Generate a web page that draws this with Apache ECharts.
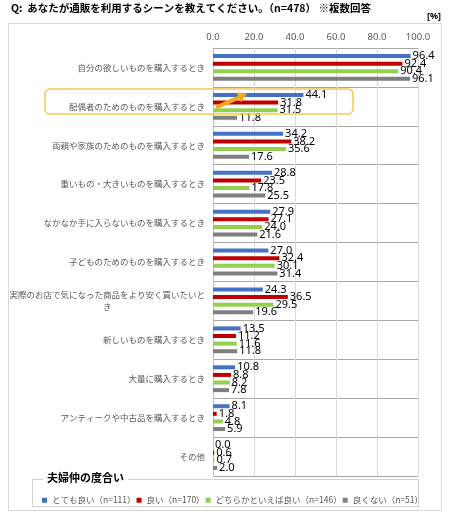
<!DOCTYPE html>
<html lang="ja">
<head>
<meta charset="UTF-8">
<title>通販利用シーン</title>
<script src="https://cdn.jsdelivr.net/npm/echarts@6/dist/echarts.min.js"></script>
<style>
  html, body { margin: 0; padding: 0; background: #fff; }
  #main { width: 452px; height: 516px; }
</style>
</head>
<body>
<div id="main"></div>
<script>
// 設問の選択肢（上から順）
var scenes = [
    '自分の欲しいものを購入するとき',
    '配偶者のためのものを購入するとき',
    '両親や家族のためのものを購入するとき',
    '重いもの・大きいものを購入するとき',
    'なかなか手に入らないものを購入するとき',
    '子どものためのものを購入するとき',
    '実際のお店で気になった商品をより安く買いたいとき',
    '新しいものを購入するとき',
    '大量に購入するとき',
    'アンティークや中古品を購入するとき',
    'その他'
];
var groupNames = ['とても良い（n=111）', '良い（n=170）', 'どちらかといえば良い（n=146）', '良くない（n=51）'];
var veryGood = [96.4, 44.1, 34.2, 28.8, 27.9, 27.0, 24.3, 13.5, 10.8, 8.1, 0.0];
var good     = [92.4, 31.8, 38.2, 23.5, 27.1, 32.4, 36.5, 11.2, 8.8, 1.8, 0.6];
var ratherGood = [90.4, 31.5, 35.6, 17.8, 24.0, 30.1, 29.5, 11.6, 8.2, 4.8, 0.7];
var notGood  = [96.1, 11.8, 17.6, 25.5, 21.6, 31.4, 19.6, 11.8, 7.8, 5.9, 2.0];
var xTicks = [0, 20, 40, 60, 80, 100];

var colors = ['#4472C4', '#C00000', '#92D050', '#7F7F7F'];
var jpFont = '"Noto Sans CJK JP", sans-serif';

var chart = echarts.init(document.getElementById('main'));

var makeSeries = function (name, data, color) {
    return {
        name: name,
        type: 'bar',
        data: data,
        barWidth: 4,
        barGap: '90%',
        itemStyle: { color: color },
        label: {
            show: true,
            position: 'right',
            distance: 2,
            color: '#000',
            fontSize: 11,
            fontFamily: '"Noto Sans", sans-serif',
            formatter: function (p) { return p.value.toFixed(1); }
        }
    };
};

var option = {
    animation: false,
    color: colors,
    title: {
        text: 'Q:  あなたが通販を利用するシーンを教えてください。（n=478） ※複数回答',
        left: 6,
        top: -2,
        textStyle: { fontSize: 10.5, fontWeight: 'bold', color: '#000', fontFamily: jpFont }
    },
    legend: {
        data: groupNames,
        left: 37,
        top: 491,
        icon: 'rect',
        itemWidth: 5,
        itemHeight: 5,
        itemGap: 1,
        textStyle: { fontSize: 8.5, color: '#595959', fontFamily: jpFont }
    },
    grid: { left: 213, right: 34, top: 48, bottom: 40 },
    xAxis: {
        type: 'value',
        position: 'top',
        min: xTicks[0],
        max: xTicks[xTicks.length - 1],
        interval: 20,
        axisLine: { show: false },
        axisTick: { show: false },
        axisLabel: {
            color: '#595959',
            fontSize: 9.5,
            fontFamily: '"Noto Sans", sans-serif',
            margin: 6,
            formatter: function (v) { return v.toFixed(1); }
        },
        splitLine: { lineStyle: { color: '#D9D9D9', width: 1 } }
    },
    yAxis: {
        type: 'category',
        data: scenes,
        inverse: true,
        axisLine: { show: true, lineStyle: { color: '#BFBFBF' } },
        axisTick: { show: false },
        splitLine: { show: true, lineStyle: { color: '#A6A6A6', width: 1 } },
        axisLabel: {
            margin: 8,
            formatter: function (v) {
                // 長いラベルは2行に折り返し、2行目は中央寄せ
                if (v.length > 20) {
                    return '{a|' + v.slice(0, v.length - 1) + '}\n{c|' + v.slice(-1) + '}';
                }
                return '{a|' + v + '}';
            },
            rich: {
                a: { fontSize: 8.5, color: '#595959', fontFamily: jpFont, lineHeight: 12 },
                c: { fontSize: 8.5, color: '#595959', fontFamily: jpFont, lineHeight: 12, align: 'center' }
            }
        }
    },
    series: [
        makeSeries(groupNames[0], veryGood, colors[0]),
        makeSeries(groupNames[1], good, colors[1]),
        makeSeries(groupNames[2], ratherGood, colors[2]),
        makeSeries(groupNames[3], notGood, colors[3])
    ],
    graphic: [
        // 外枠
        {
            type: 'rect', z: -10, silent: true,
            shape: { x: 8.5, y: 23.5, width: 433, height: 487 },
            style: { fill: 'none', stroke: '#D9D9D9', lineWidth: 1 }
        },
        {
            type: 'text', right: 11, top: 12,
            style: { text: '[%]', fontSize: 9, fontWeight: 'bold', fill: '#000', fontFamily: '"Noto Sans", sans-serif' }
        },
        // 凡例の点線枠
        {
            type: 'rect', silent: true,
            shape: { x: 32.5, y: 479.5, width: 386, height: 27 },
            style: { fill: 'none', stroke: '#A6A6A6', lineWidth: 1, lineDash: [1, 1] }
        },
        {
            type: 'text', left: 43, top: 472, z: 100,
            style: {
                text: '夫婦仲の度合い', fontSize: 11, fontWeight: 'bold', fill: '#000', fontFamily: jpFont,
                backgroundColor: '#fff', padding: [0, 4]
            }
        },
        // 強調枠と矢印
        {
            type: 'rect', z: 100, silent: true,
            shape: { x: 45, y: 89, width: 308, height: 25, r: 5 },
            style: { fill: 'none', stroke: '#F8C850', lineWidth: 1.5 }
        },
        {
            type: 'line', z: 101, silent: true,
            shape: { x1: 216, y1: 107.5, x2: 239, y2: 97.3 },
            style: { stroke: '#F5A917', lineWidth: 4 }
        },
        {
            type: 'polygon', z: 101, silent: true,
            shape: { points: [[247, 93.5], [241.2, 102.3], [236.6, 92.4]] },
            style: { fill: '#F5A917' }
        }
    ]
};

chart.setOption(option);
</script>
</body>
</html>
